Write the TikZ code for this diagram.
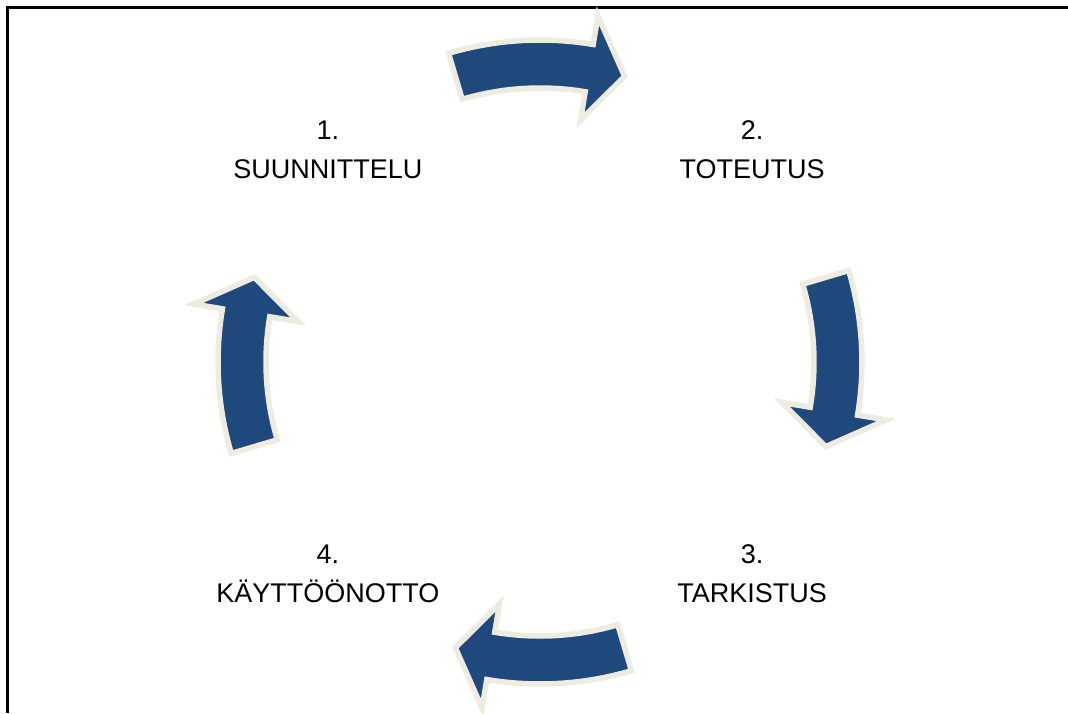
\documentclass[tikz,border=0pt]{standalone}
\usepackage{fontspec}
\setmainfont{Liberation Sans}
\usepackage{tikz}
\usetikzlibrary{positioning, calc}
\definecolor{cycleblue}{RGB}{31, 73, 125}
\definecolor{cyclecream}{RGB}{238, 236, 225}

\begin{document}
\begin{tikzpicture}[
    x=1pt, y=1pt,
    phase/.style={align=center, font=\fontsize{27}{39}\selectfont},
    cyclearrow/.style={fill=cycleblue, draw=cyclecream, line width=5.5pt, line join=miter},
    frameline/.style={draw=black, line width=3pt}
]
    \useasboundingbox (-540,-351) rectangle (528,362);

    % Frame (only top and left edges are visible)
    \coordinate (fbl) at (-532,-351);
    \coordinate (ftl) at (-532,354);
    \coordinate (ftr) at (528,354);
    \draw[frameline] (fbl) -- (ftl) -- (ftr);

    % Phases
    \node[phase] (suunn) at (135:300) {1.\\SUUNNITTELU};
    \node[phase] (toteu) at (45:300) {2.\\TOTEUTUS};
    \node[phase] (tarki) at (-45:300) {3.\\TARKISTUS};
    \node[phase] (kaytt) at (225:300) {4.\\KÄYTTÖÖNOTTO};

    % Curved arrows between the phases
    \foreach \k in {0,...,3}{
        \draw[cyclearrow, rotate=-90*\k]
            (106.5:322) arc[start angle=106.5, end angle=80.5, radius=322]
            -- (80.5:351) -- (73.5:298) -- (80.5:245) -- (80.5:274)
            arc[start angle=80.5, end angle=106.5, radius=274] -- cycle;
    }

\end{tikzpicture}
\end{document}
